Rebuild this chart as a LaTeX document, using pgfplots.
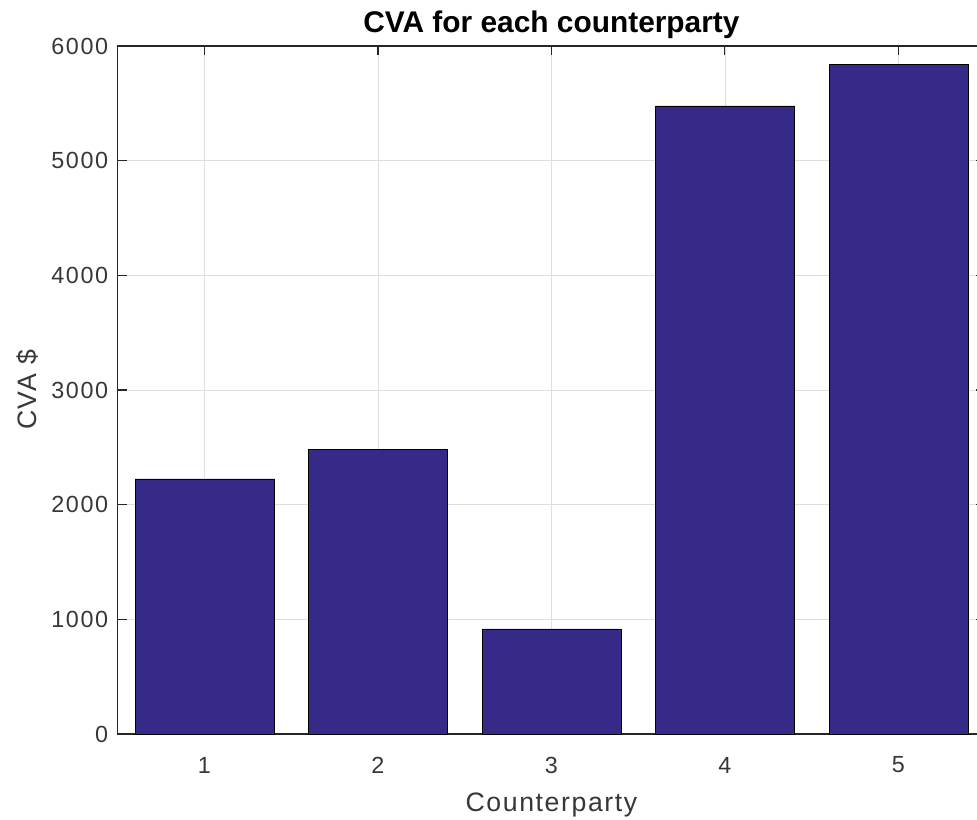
\documentclass[border=0pt]{standalone}
\usepackage{pgfplots}
\pgfplotsset{compat=1.18}
\usepackage{fontspec}
\setmainfont{Liberation Sans}
\newfontfamily\tickfont[LetterSpace=7]{Liberation Sans}
\newfontfamily\labfont[LetterSpace=6]{Liberation Sans}
\definecolor{barblue}{RGB}{53,42,135}
\definecolor{axgray}{RGB}{38,38,38}
\definecolor{txtgray}{RGB}{55,55,55}
\definecolor{gridgray}{RGB}{222,222,222}
\begin{document}
\begin{tikzpicture}
\begin{axis}[
  name=ax,
  scale only axis,
  width=650.6pt, height=516pt,
  xmin=0.5, xmax=5.5, ymin=0, ymax=6000,
  xtick={1,2,3,4,5},
  ytick={0,1000,2000,3000,4000,5000,6000},
  grid=major,
  major grid style={gridgray, line width=0.6pt},
  axis line style={axgray, line width=0.8pt},
  tick style={axgray, line width=0.8pt},
  tick align=inside,
  major tick length=7pt,
  ticklabel style={font=\tickfont\fontsize{17.5}{19}\selectfont, text=txtgray, inner sep=0pt},
  /pgf/number format/assume math mode=true,
  scaled y ticks=false,
  yticklabel style={/pgf/number format/1000 sep={}, anchor=east, xshift=-7pt},
  xticklabel style={anchor=center, yshift=-23.25pt},
  every axis x label/.style={at={(rel axis cs:0.5,0)}, anchor=center, yshift=-53pt},
  every axis y label/.style={at={(rel axis cs:0,0.5)}, anchor=center, rotate=90, yshift=67.5pt},
  xlabel={Counterparty},
  ylabel={CVA \$},
  label style={font=\labfont\fontsize{20}{22}\selectfont, text=txtgray},
  every axis title/.style={at={(rel axis cs:0.5,1)}, anchor=center, yshift=16pt},
  title={\textbf{CVA for each counterparty}},
  title style={font=\fontsize{22.4}{24}\selectfont, text=black},
]
\addplot[ybar, bar width=0.8, fill=barblue, draw=black, line width=0.5pt] coordinates {
  (1,2224) (2,2485) (3,916) (4,5477) (5,5843)
};
\end{axis}
\pgfresetboundingbox
\path (ax.south west) ++(-88.3pt,-64.5pt) rectangle ++(732.75pt,615pt);
\end{tikzpicture}
\end{document}
